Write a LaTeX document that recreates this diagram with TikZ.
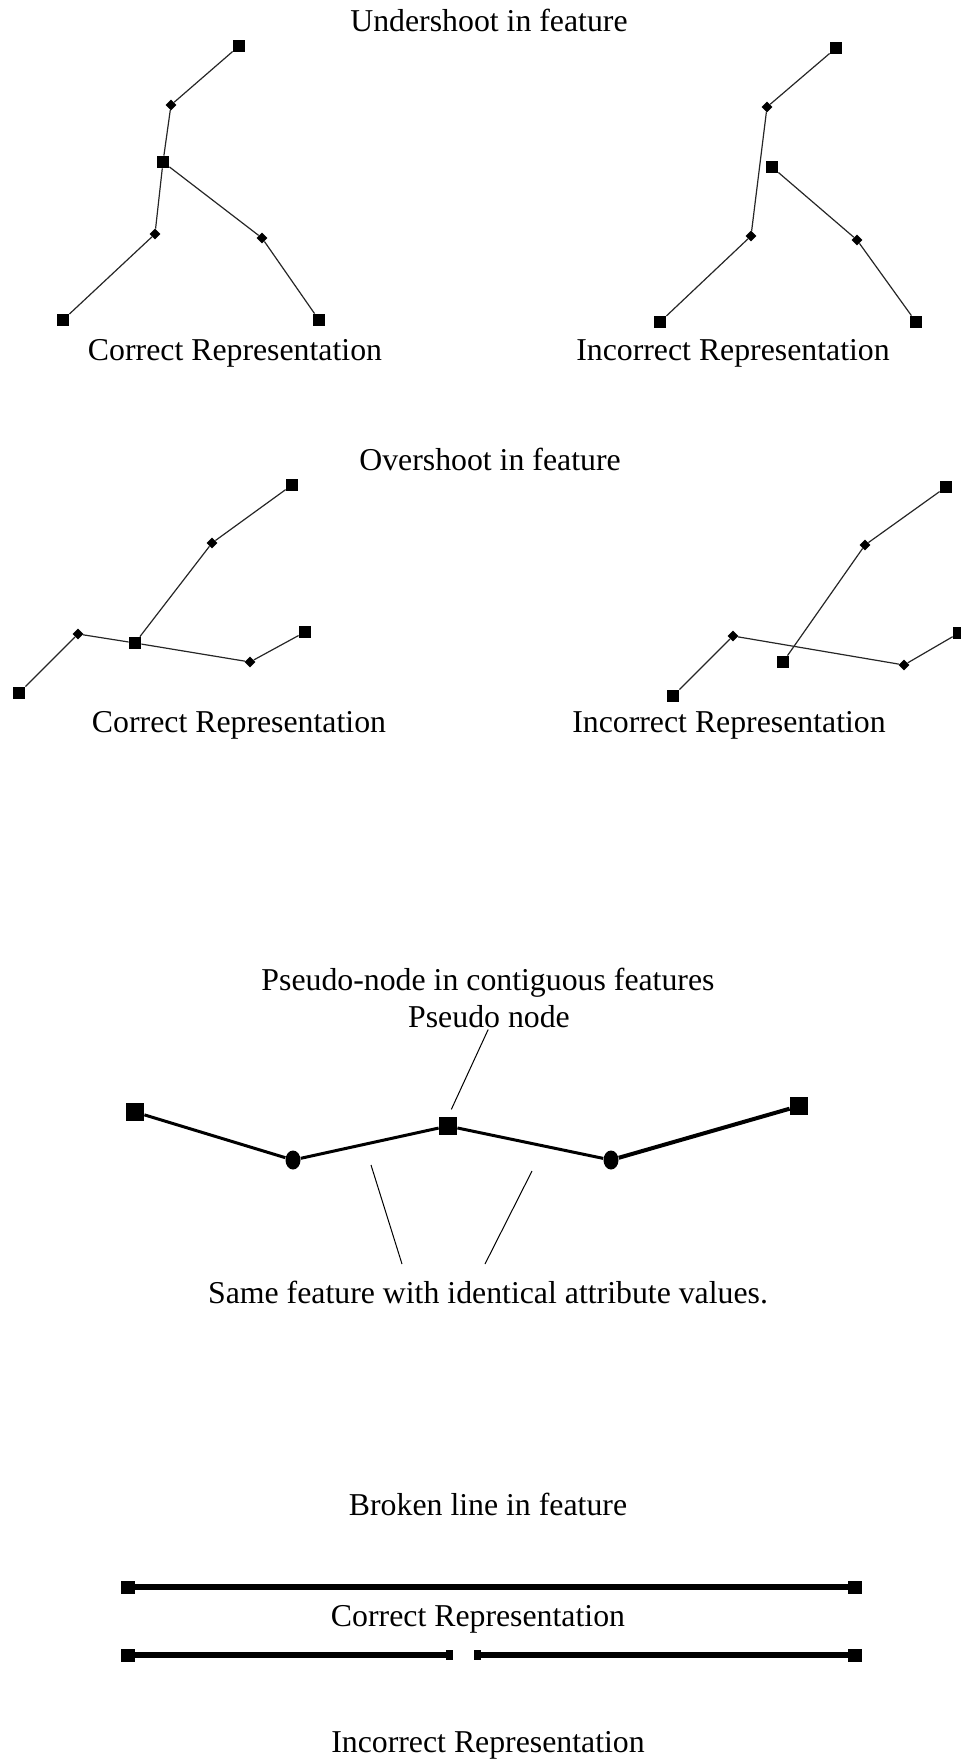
\documentclass[tikz,border=0pt]{standalone}
\usepackage{fontspec}
\setmainfont{Liberation Serif}
\usetikzlibrary{shapes.geometric}
\tikzset{
	endpt/.style={rectangle,fill=black,inner sep=0pt,minimum size=6pt},
	vtx/.style={diamond,fill=black,inner sep=0pt,minimum size=5.5pt},
	bigsq/.style={rectangle,fill=black,inner sep=0pt,minimum size=9pt},
	blob/.style={ellipse,fill=black,inner sep=0pt,minimum width=7.5pt,minimum height=9.5pt},
	barend/.style={rectangle,fill=black,inner sep=0pt,minimum width=7pt,minimum height=6.5pt},
	gapend/.style={rectangle,fill=black,inner sep=0pt,minimum width=3.5pt,minimum height=5pt},
	txt/.style={anchor=base,inner sep=0pt},
	thinline/.style={black!85,line width=0.6pt},
	leader/.style={black,line width=0.5pt}
}
\begin{document}
\begin{tikzpicture}[x=0.5pt,y=-0.5pt,font=\fontsize{15.9}{19}\selectfont]
	\useasboundingbox (0,0) rectangle (960,1760);

	% undershoot
	\node[txt] (ustitle) at (489,32) {Undershoot in feature};
	\foreach \n/\x/\y in {u1/239/46,u3/163/162,u5/63/320,u7/319/320,
		a1/836/48,a4/660/322,a5/772/167,a7/916/322}
		\node[endpt] (\n) at (\x,\y) {};
	\foreach \n/\x/\y in {u2/171/105,u4/155/234,u6/262/238,
		a2/767/107,a3/751/236,a6/857/240}
		\node[vtx] (\n) at (\x,\y) {};
	\draw[thinline] (u1) -- (u2) -- (u3) -- (u4) -- (u5);
	\draw[thinline] (u3) -- (u6) -- (u7);
	\draw[thinline] (a1) -- (a2) -- (a3) -- (a4);
	\draw[thinline] (a5) -- (a6) -- (a7);
	\node[txt] (uscor) at (235,360) {Correct Representation};
	\node[txt] (usinc) at (733,360) {Incorrect Representation};

	% overshoot
	\node[txt] (ostitle) at (490,470) {Overshoot in feature};
	\foreach \n/\x/\y in {o1/292/485,o3/135/643,o5/19/693,o7/305/632,
		p1/946/487,p3/783/662,p5/673/696,p7/959/633}
		\node[endpt] (\n) at (\x,\y) {};
	\foreach \n/\x/\y in {o2/212/543,o4/78/634,o6/250/662,
		p2/865/545,p4/733/636,p6/904/665}
		\node[vtx] (\n) at (\x,\y) {};
	\draw[thinline] (o1) -- (o2) -- (o3);
	\draw[thinline] (o5) -- (o4) -- (o3) -- (o6) -- (o7);
	\draw[thinline] (p1) -- (p2) -- (p3);
	\draw[thinline] (p5) -- (p4) -- (p6) -- (p7);
	\node[txt] (oscor) at (239,732) {Correct Representation};
	\node[txt] (osinc) at (729,732) {Incorrect Representation};

	% pseudo node
	\node[txt] (pntitle) at (488,990) {Pseudo-node in contiguous features};
	\node[txt] (pnlbl) at (489,1027) {Pseudo node};
	\node[bigsq] (q1) at (135,1112) {};
	\node[blob] (q2) at (293,1160) {};
	\node[bigsq] (q3) at (448,1126) {};
	\node[blob] (q4) at (611,1160) {};
	\node[bigsq] (q5) at (799,1106) {};
	\draw[line width=1.5pt] (q1) -- (q2) -- (q3) -- (q4);
	\draw[line width=2pt] (q4) -- (q5);
	\draw[leader,shorten <=1pt,shorten >=4pt] (pnlbl.south) -- (q3.north);
	\coordinate (sfl) at (371,1165);
	\coordinate (sfla) at (402,1264);
	\coordinate (sfr) at (532,1171);
	\coordinate (sfra) at (485,1264);
	\draw[leader] (sfl) -- (sfla);
	\draw[leader] (sfr) -- (sfra);
	\node[txt] (sflbl) at (488,1303) {Same feature with identical attribute values.};

	% broken line
	\node[txt] (bltitle) at (488,1515) {Broken line in feature};
	\node[barend] (b1) at (128,1587) {};
	\node[barend] (b2) at (855,1587) {};
	\draw[line width=2.8pt] (b1) -- (b2);
	\node[txt] (blcor) at (478,1626) {Correct Representation};
	\node[barend] (c1) at (128,1655) {};
	\node[gapend] (c2) at (449.5,1655) {};
	\node[gapend] (c3) at (477,1655) {};
	\node[barend] (c4) at (855,1655) {};
	\draw[line width=2.8pt] (c1) -- (c2);
	\draw[line width=2.8pt] (c3) -- (c4);
	\node[txt] (blinc) at (488,1752) {Incorrect Representation};
\end{tikzpicture}
\end{document}
